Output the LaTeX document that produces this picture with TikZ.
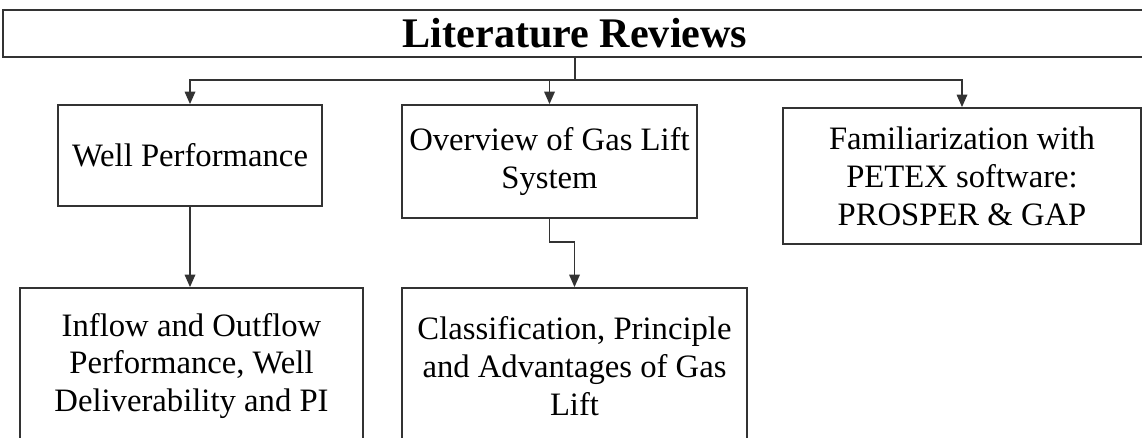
\documentclass[tikz,border=0pt]{standalone}
\usepackage{fontspec}
\setmainfont{Liberation Serif}
\usetikzlibrary{arrows.meta,positioning}
\tikzset{
  wire/.style={draw=black!80, line width=1pt},
  flow/.style={wire, -{Triangle[length=2.5mm,width=2.1mm]}},
  box/.style={draw=black!80, line width=1pt, fill=white,
              inner sep=0pt, align=center,
              font=\fontsize{18.6}{21.6}\selectfont},
  titlebox/.style={box, font=\fontsize{24}{28}\selectfont\bfseries},
}
\begin{document}
\begin{tikzpicture}[x=0.02cm,y=-0.02cm]
  \useasboundingbox (0,0) rectangle (1142,438);

  \node[titlebox, minimum width=22.88cm, minimum height=0.94cm] (lit) at (575,33.5)
    {Literature Reviews};

  \node[box, minimum width=5.28cm, minimum height=2.02cm] (well) at (190,155.5)
    {Well Performance};
  \node[box, minimum width=5.9cm, minimum height=2.26cm] (gas) at (549.5,161.5)
    {Overview of Gas Lift\\System};
  \node[box, minimum width=7.16cm, minimum height=2.72cm] (petex) at (962,176)
    {Familiarization with\\PETEX software:\\PROSPER \& GAP};

  \node[box, minimum width=6.86cm, minimum height=3.12cm] (inflow) at (191.5,366)
    {Inflow and Outflow\\Performance, Well\\Deliverability and PI};
  \node[box, minimum width=6.9cm, minimum height=3.12cm] (classif) at (574.5,366)
    {Classification, Principle\\and Advantages of Gas\\Lift};

  \coordinate (bus) at (0,80);
  \coordinate (jog) at (0,242);

  \draw[wire] (lit.south) -- (lit.south |- bus);
  \draw[flow] (lit.south |- bus) -| (well.north);
  \draw[flow] (lit.south |- bus) -| (gas.north);
  \draw[flow] (lit.south |- bus) -| (petex.north);

  \draw[flow] (well.south) -- (well.south |- inflow.north);
  \draw[flow] (gas.south) -- (gas.south |- jog) -| (classif.north);
\end{tikzpicture}
\end{document}
